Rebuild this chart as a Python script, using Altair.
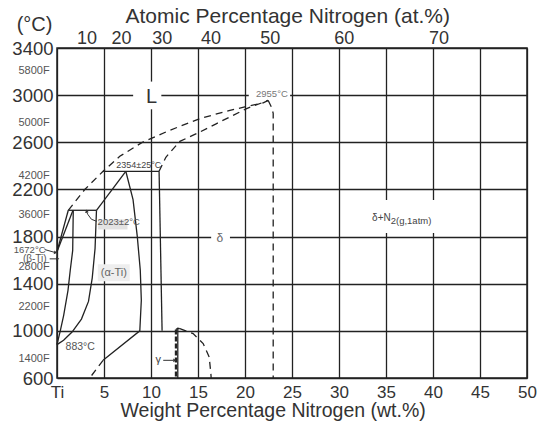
import altair as alt
import pandas as pd

FONT = "Liberation Sans"
DARK = "#222222"

# ---------------- axis values ----------------
wt_ticks = [0, 5, 10, 15, 20, 25, 30, 35, 40, 45, 50]
temp_ticks = [600, 1000, 1400, 1800, 2200, 2600, 3000, 3400]
at_ticks = [10, 20, 30, 40, 50, 60, 70]
f_ticks = [5800, 5000, 4200, 3600, 2800, 2200, 1400]

M_N, M_TI = 14.007, 47.867
at_wt = [100 * a * M_N / (a * M_N + (100 - a) * M_TI) for a in at_ticks]
f_temp = [(f - 32) / 1.8 for f in f_ticks]

# ---------------- phase boundaries (wt.% N, degC) ----------------
beta_liq_wt = [0, 1.2]
beta_liq_T = [1672, 2023]
beta_sol_wt = [0, 1.7]
beta_sol_T = [1672, 2023]
per2023_wt = [1.2, 4.2]
per2023_T = [2023, 2023]
beta_solvus_wt = [1.73, 1.67, 1.41, 1.17, 0.71, 0.36, 0]
beta_solvus_T = [2023, 1683, 1514, 1344, 1132, 1005, 883]
alpha_transus_wt = [4.2, 4.05, 3.75, 3.35, 2.6, 1.6, 0.7, 0]
alpha_transus_T = [2023, 1700, 1450, 1250, 1100, 990, 920, 883]
alpha_sol_wt = [4.2, 7.32]
alpha_sol_T = [2023, 2354]
per2354_wt = [4.9, 10.86]
per2354_T = [2354, 2354]
alpha_delta_wt = [7.32, 8.09, 8.54, 8.86, 8.97, 8.81, 4.9]
alpha_delta_T = [2354, 2114, 1802, 1514, 1259, 1000, 750]
delta_left_wt = [10.86, 11.18]
delta_left_T = [2354, 1000]
gamma_line_wt = [12.85, 12.85]
gamma_line_T = [1020, 600]
gamma_cap_wt = [12.65, 12.85, 13.07]
gamma_cap_T = [1012, 1022, 1019]

alpha_low_wt = [4.9, 3.48]
alpha_low_T = [750, 600]
liquidus_wt = [1.2, 2.95, 4.9, 6.68, 9.02, 12.0, 15.2, 18.39, 20.52, 21.94, 22.47]
liquidus_T = [2023, 2199, 2354, 2481, 2597, 2702, 2801, 2871, 2910, 2935, 2955]
delta_sol_wt = [10.86, 11.58, 13.07, 15.2, 16.98, 20.17, 22.47]
delta_sol_T = [2354, 2473, 2608, 2687, 2759, 2886, 2955]
delta_right_wt = [22.47, 22.8, 23.0, 23.0]
delta_right_T = [2955, 2900, 2846, 600]
gamma_right_wt = [13.07, 14.48, 15.55, 16.19, 16.37, 16.4]
gamma_right_T = [1019, 977, 892, 778, 637, 600]

gamma_left_wt = [12.65, 12.65]
gamma_left_T = [1012, 600]

# arrows
arr1672_wt = [-1.31, -0.25]
arr1672_T = [1690, 1666]
arrbeta_wt = [-0.78, -0.05]
arrbeta_T = [1611, 1611]
arrgamma_wt = [11.3, 12.4]
arrgamma_T = [750, 750]
arr2023_wt = [4.23, 3.66, 3.27, 3.16]
arr2023_T = [1929, 1947, 1989, 2008]
head_wt = [-0.2, 0.02, 12.48, 3.16]
head_T = [1665, 1611, 750, 2012]
head_angle = [100, 90, 90, 350]

# annotations (centered)
lab_text = ["L", "2955°C", "2354±25°C", "2023±2°C", "δ", "(α-Ti)", "883°C", "γ",
            "1672°C", "(β-Ti)"]
lab_wt = [10.05, 22.86, 8.7, 6.57, 17.33, 6.04, 2.47, 10.76, -2.91, -2.37]
lab_T = [2982, 3006, 2405, 1924, 1792, 1494, 863, 750, 1690, 1611]
lab_size = [20, 9.5, 9, 9.5, 12, 11, 10.5, 11, 9.5, 10]
lab_color = ["#333333", "#777777", "#444444", "#555555", "#666666", "#666666",
             "#555555", "#444444", "#555555", "#555555"]

# background boxes behind labels
box_wt = [8.1, 20.4, 16.4, 31.7, 4.37, 4.34]
box_wt2 = [11.1, 24.8, 18.4, 42.3, 7.5, 7.74]
box_T = [2880, 2965, 1740, 1830, 1860, 1420]
box_T2 = [3115, 3045, 1850, 2110, 1945, 1565]
box_fill = ["white", "white", "white", "white", "#e2e2e2", "#eeeeee"]

# ---------------- data frames ----------------
def seg_rows(name, wts, ts):
    return [{"seg": name, "ord": i, "wt": w, "T": t} for i, (w, t) in enumerate(zip(wts, ts))]

solid = []
for n, w, t in [("bl", beta_liq_wt, beta_liq_T), ("bs", beta_sol_wt, beta_sol_T),
                ("p1", per2023_wt, per2023_T), ("bsv", beta_solvus_wt, beta_solvus_T),
                ("at", alpha_transus_wt, alpha_transus_T), ("as", alpha_sol_wt, alpha_sol_T),
                ("p2", per2354_wt, per2354_T), ("ad", alpha_delta_wt, alpha_delta_T),
                ("dl", delta_left_wt, delta_left_T), ("gl", gamma_line_wt, gamma_line_T),
                ("gc", gamma_cap_wt, gamma_cap_T)]:
    solid += seg_rows(n, w, t)
dashed = []
for n, w, t in [("al", alpha_low_wt, alpha_low_T), ("liq", liquidus_wt, liquidus_T),
                ("dsol", delta_sol_wt, delta_sol_T), ("dr", delta_right_wt, delta_right_T),
                ("gr", gamma_right_wt, gamma_right_T)]:
    dashed += seg_rows(n, w, t)
thick = seg_rows("gleft", gamma_left_wt, gamma_left_T)
arrows = []
for n, w, t in [("a1", arr1672_wt, arr1672_T), ("a2", arrbeta_wt, arrbeta_T),
                ("a3", arrgamma_wt, arrgamma_T), ("a4", arr2023_wt, arr2023_T)]:
    arrows += seg_rows(n, w, t)

df_solid = pd.DataFrame(solid)
df_dashed = pd.DataFrame(dashed)
df_thick = pd.DataFrame(thick)
df_arrows = pd.DataFrame(arrows)
df_heads = pd.DataFrame({"wt": head_wt, "T": head_T, "ang": head_angle})
df_labels = pd.DataFrame({"text": lab_text, "wt": lab_wt, "T": lab_T,
                          "size": lab_size, "color": lab_color})
df_boxes = pd.DataFrame({"wt": box_wt, "wt2": box_wt2, "T": box_T, "T2": box_T2,
                         "fill": box_fill})
df_f = pd.DataFrame({"text": [f"{f}F" for f in f_ticks], "T": f_temp,
                     "wt": [-0.78] * len(f_ticks)})
df_dn = pd.DataFrame({"wt": [35.5], "T": [1961]})

xs = alt.Scale(domain=[0, 50], nice=False, zero=False)
ys = alt.Scale(domain=[600, 3400], nice=False, zero=False)
X = alt.X("wt:Q", scale=xs, axis=None)
Y = alt.Y("T:Q", scale=ys, axis=None)

bottom_axis = alt.Axis(
    orient="bottom", values=wt_ticks,
    labelExpr="datum.value == 0 ? 'Ti' : datum.label",
    ticks=False, domain=False, grid=True, gridColor=DARK, gridWidth=1.3, gridOpacity=1,
    labelFont=FONT, labelFontSize=17, labelColor="#333333", labelPadding=6,
    labelFlush=False, labelOverlap=False,
    title="Weight Percentage Nitrogen (wt.%)", titleFont=FONT, titleFontSize=19.5,
    titleFontWeight="normal", titleColor="#333333", titleX=63, titleY=38,
    titleAlign="left", titleBaseline="alphabetic")
left_axis = alt.Axis(
    orient="left", values=temp_ticks, format="d", ticks=False, domain=False, grid=True,
    gridColor=DARK, gridWidth=1.3, gridOpacity=1,
    labelFont=FONT, labelFontSize=18.5, labelColor="#333333", labelPadding=4,
    labelFlush=False, labelOverlap=False,
    title="(°C)", titleFont=FONT, titleFontSize=20, titleFontWeight="normal",
    titleColor="#333333", titleAngle=0, titleX=-23, titleY=-24,
    titleAlign="center", titleBaseline="middle")
top_axis = alt.Axis(
    orient="top", values=at_wt,
    labelExpr="format(100*(datum.value/14.007)/(datum.value/14.007+(100-datum.value)/47.867), '.0f')",
    ticks=False, domain=False, grid=False,
    labelFont=FONT, labelFontSize=18, labelColor="#333333", labelPadding=1,
    labelFlush=False, labelOverlap=False,
    title="Atomic Percentage Nitrogen (at.%)", titleFont=FONT, titleFontSize=21,
    titleFontWeight="normal", titleColor="#333333", titleX=68, titleY=-26,
    titleAlign="left", titleBaseline="alphabetic")

boxes = alt.Chart(df_boxes).mark_rect(strokeWidth=0).encode(
    x=alt.X("wt:Q", scale=xs, axis=top_axis), x2="wt2:Q",
    y=alt.Y("T:Q", scale=ys, axis=left_axis), y2="T2:Q",
    fill=alt.Fill("fill:N", scale=None))

solid_lines = alt.Chart(df_solid).mark_line(color=DARK, strokeWidth=1.3).encode(
    x=alt.X("wt:Q", scale=xs, axis=bottom_axis),
    y=Y,
    detail="seg:N", order="ord:Q")
dashed_lines = alt.Chart(df_dashed).mark_line(
    color=DARK, strokeWidth=1.3, strokeDash=[7, 5]).encode(
    x=X, y=Y, detail="seg:N", order="ord:Q")
thick_lines = alt.Chart(df_thick).mark_line(
    color=DARK, strokeWidth=2.2, strokeDash=[5, 2]).encode(
    x=X, y=Y, detail="seg:N", order="ord:Q")
arrow_lines = alt.Chart(df_arrows).mark_line(color="#333333", strokeWidth=1).encode(
    x=X, y=Y, detail="seg:N", order="ord:Q")
heads = alt.Chart(df_heads).mark_point(
    shape="triangle", filled=True, color="#333333", size=14, opacity=1).encode(
    x=X, y=Y, angle=alt.Angle("ang:Q", scale=None))

labels = alt.Chart(df_labels).mark_text(font=FONT, align="center", baseline="middle").encode(
    x=X, y=Y, text="text:N",
    size=alt.Size("size:Q", scale=None), color=alt.Color("color:N", scale=None))
f_labels = alt.Chart(df_f).mark_text(
    font=FONT, fontSize=11, color="#555555", align="right", baseline="middle").encode(
    x=X, y=Y, text="text:N")
dn_main = alt.Chart(df_dn).mark_text(
    font=FONT, fontSize=10, color="#444444", align="right", baseline="middle",
    text="δ+N").encode(x=X, y=Y)
dn_sub = alt.Chart(df_dn).mark_text(
    font=FONT, fontSize=9.5, color="#444444", align="left", baseline="middle", dy=3,
    text="2(g,1atm)").encode(x=X, y=Y)

chart = alt.layer(
    boxes, solid_lines, dashed_lines, thick_lines, arrow_lines, heads,
    labels, f_labels, dn_main, dn_sub
).resolve_axis(x="independent", y="independent").properties(
    width=470, height=330,
    autosize=alt.AutoSizeParams(type="none"),
    padding={"left": 57, "top": 48, "right": 10, "bottom": 49},
    background="white",
).configure_view(stroke=DARK, strokeWidth=1.5)

chart.save("out.html", embed_options={"renderer": "svg", "actions": False})
